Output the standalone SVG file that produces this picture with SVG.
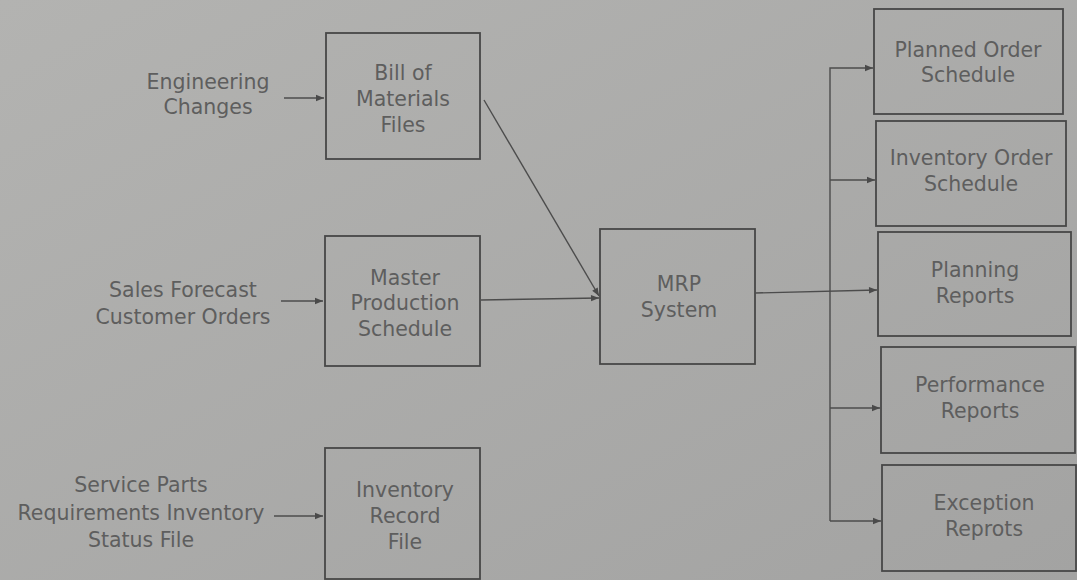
<svg xmlns="http://www.w3.org/2000/svg" width="1077" height="580" viewBox="0 0 1077 580">
<defs>
<linearGradient id="bg" x1="0" y1="0" x2="1" y2="1">
<stop offset="0" stop-color="#b3b3b1"/>
<stop offset="1" stop-color="#a3a3a2"/>
</linearGradient>
<marker id="ah" viewBox="0 0 10 10" refX="10" refY="5" markerWidth="10" markerHeight="8" markerUnits="userSpaceOnUse" orient="auto">
<path d="M0,1 L10,5 L0,9 z" fill="#4a4a4a"/>
</marker>
</defs>
<style>
.box{fill:none;stroke:#474747;stroke-width:1.8}
.t{font-family:"DejaVu Sans",Verdana,sans-serif;font-size:20.5px;fill:#5e5e5e;text-anchor:middle}
.c{fill:none;stroke:#4c4c4c;stroke-width:1.4}
.a{marker-end:url(#ah)}
</style>
<rect x="0" y="0" width="1077" height="580" fill="url(#bg)"/>

<g id="bom">
<rect class="box" x="326" y="33" width="154" height="126"/>
<text class="t" x="403" y="80">Bill of</text>
<text class="t" x="403" y="106">Materials</text>
<text class="t" x="403" y="132">Files</text>
</g>
<g id="mps">
<rect class="box" x="325" y="236" width="155" height="130"/>
<text class="t" x="405" y="285">Master</text>
<text class="t" x="405" y="310">Production</text>
<text class="t" x="405" y="336">Schedule</text>
</g>
<g id="irf">
<rect class="box" x="325" y="448" width="155" height="131"/>
<text class="t" x="405" y="497">Inventory</text>
<text class="t" x="405" y="523">Record</text>
<text class="t" x="405" y="549">File</text>
</g>
<g id="mrp">
<rect class="box" x="600" y="229" width="155" height="135"/>
<text class="t" x="679" y="291">MRP</text>
<text class="t" x="679" y="317">System</text>
</g>
<g id="eng">
<text class="t" x="208" y="89">Engineering</text>
<text class="t" x="208" y="114">Changes</text>
</g>
<g id="sales">
<text class="t" x="183" y="297">Sales Forecast</text>
<text class="t" x="183" y="324">Customer Orders</text>
</g>
<g id="service">
<text class="t" x="141" y="492">Service Parts</text>
<text class="t" x="141" y="520">Requirements Inventory</text>
<text class="t" x="141" y="547">Status File</text>
</g>
<g id="planned">
<rect class="box" x="874" y="9" width="189" height="105"/>
<text class="t" x="968" y="57">Planned Order</text>
<text class="t" x="968" y="82">Schedule</text>
</g>
<g id="invorder">
<rect class="box" x="876" y="121" width="190" height="105"/>
<text class="t" x="971" y="165">Inventory Order</text>
<text class="t" x="971" y="191">Schedule</text>
</g>
<g id="planning">
<rect class="box" x="878" y="232" width="193" height="104"/>
<text class="t" x="975" y="277">Planning</text>
<text class="t" x="975" y="303">Reports</text>
</g>
<g id="performance">
<rect class="box" x="881" y="347" width="194" height="106"/>
<text class="t" x="980" y="392">Performance</text>
<text class="t" x="980" y="418">Reports</text>
</g>
<g id="exception">
<rect class="box" x="882" y="465" width="194" height="106"/>
<text class="t" x="984" y="510">Exception</text>
<text class="t" x="984" y="536">Reprots</text>
</g>

<g id="connectors">
<line class="c a" x1="284" y1="98" x2="324" y2="98"/>
<line class="c a" x1="281" y1="301" x2="323" y2="301"/>
<line class="c a" x1="274" y1="516" x2="323" y2="516"/>
<line class="c a" x1="484" y1="100" x2="599" y2="296"/>
<line class="c a" x1="481" y1="300" x2="599" y2="298"/>
<line class="c a" x1="755" y1="293" x2="877" y2="290"/>
<polyline class="c a" points="830,521 830,68 873,68"/>
<line class="c a" x1="830" y1="180" x2="875" y2="180"/>
<line class="c a" x1="830" y1="408" x2="880" y2="408"/>
<line class="c a" x1="830" y1="521" x2="881" y2="521"/>
</g>
</svg>
